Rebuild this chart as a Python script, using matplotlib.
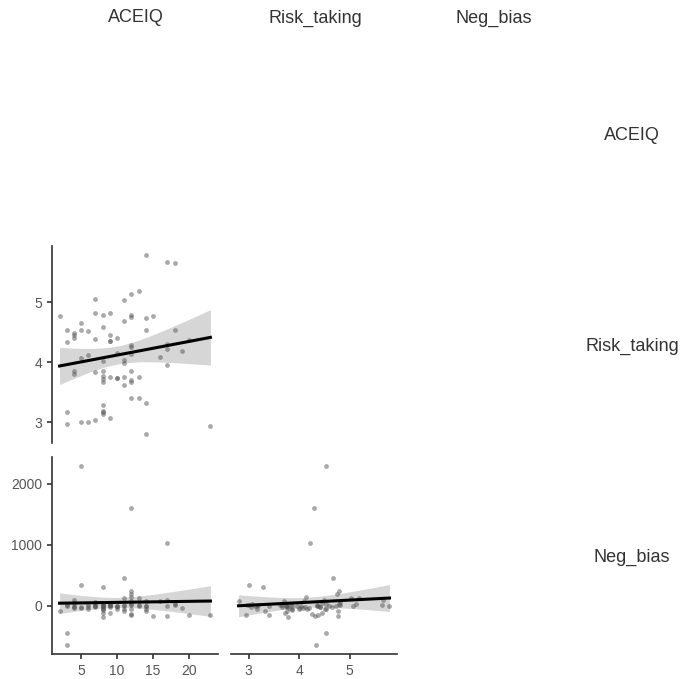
import numpy as np
import matplotlib.pyplot as plt

plt.rcParams['font.family'] = ['Liberation Sans', 'DejaVu Sans']

variables = ["ACEIQ", "Risk_taking", "Neg_bias"]

# one row per participant, grouped by ACEIQ score
aceiq = [2,
         3, 3, 3, 3,
         4, 4, 4, 4, 4,
         5, 5, 5, 5,
         6, 6, 6,
         7, 7, 7, 7, 7,
         8, 8, 8, 8, 8, 8, 8, 8, 8, 8, 8,
         9, 9, 9, 9, 9, 9,
         10, 10, 10, 10,
         11, 11, 11, 11, 11, 11,
         12, 12, 12, 12, 12, 12, 12, 12, 12, 12,
         13, 13, 13,
         14, 14, 14, 14, 14,
         15,
         16,
         17, 17, 17, 17,
         18, 18,
         19,
         20,
         23]

risk_taking = [4.77,
               4.54, 4.33, 3.16, 2.96,
               4.49, 4.45, 4.41, 3.86, 3.80,
               4.66, 4.54, 4.07, 3.00,
               4.52, 4.12, 3.00,
               5.06, 4.82, 4.38, 3.84, 3.04,
               4.79, 4.59, 4.02, 3.86, 3.77, 3.72, 3.67, 3.28, 3.19, 3.16, 3.13,
               4.82, 4.46, 4.36, 4.36, 3.76, 3.07,
               4.41, 4.15, 3.74, 3.74,
               5.03, 4.68, 4.04, 3.99, 3.76, 3.62,
               5.13, 4.79, 4.76, 4.29, 4.26, 4.14, 3.86, 3.71, 3.67, 3.40,
               5.19, 3.76, 3.40,
               5.79, 4.73, 4.53, 3.32, 2.80,
               4.77,
               4.09,
               5.67, 4.31, 4.22, 3.96,
               5.65, 4.54,
               4.19,
               4.37,
               2.94]

neg_bias = [-82,
            -454, -650, -11, 5,
            93, 38, -27, -11, -38,
            -27, 2295, -38, 344,
            -55, -30, 10,
            0, 55, -10, 20, -20,
            30, -2, -38, -71, -186, -115, -20, 300, 10, -50, 0,
            11, -126, 16, 0, -20, 30,
            -27, -54, 0, -10,
            120, 448, -5, -54, -82, 10,
            20, 235, 191, 1596, -137, 137, -54, 82, 11, -148,
            120, 11, 0,
            -16, -11, -54, -93, 82,
            -175,
            82,
            93, -175, 1033, -16,
            11, 30,
            -38,
            -153,
            -153]

data = {"ACEIQ": np.array(aceiq, float),
        "Risk_taking": np.array(risk_taking, float),
        "Neg_bias": np.array(neg_bias, float)}

tick_values = {"ACEIQ": [5, 10, 15, 20],
               "Risk_taking": [3, 4, 5],
               "Neg_bias": [0, 1000, 2000]}

T_CRIT = 1.99  # 95% t quantile, df ~ 76

W, H = 682, 679
col_left = [52, 231, 410]
row_top = [35, 246, 457]
panel_w, panel_h = 166, 197

AXIS_COL = "#333333"
TEXT_COL = "#555555"


def rect(left, top, w, h):
    return [left / W, 1 - (top + h) / H, w / W, h / H]


def limits(v):
    lo, hi = v.min(), v.max()
    pad = (hi - lo) * 0.05
    return lo - pad, hi + pad


def draw_panel(ax, xname, yname):
    x = data[xname]
    y = data[yname]

    slope, intercept = np.polyfit(x, y, 1)
    xs = np.linspace(x.min(), x.max(), 100)
    fit = intercept + slope * xs
    resid = y - (intercept + slope * x)
    n = len(x)
    s = np.sqrt(np.sum(resid ** 2) / (n - 2))
    se = s * np.sqrt(1 / n + (xs - x.mean()) ** 2 / np.sum((x - x.mean()) ** 2))

    ax.fill_between(xs, fit - T_CRIT * se, fit + T_CRIT * se,
                    color="#d6d6d6", lw=0, zorder=1)
    ax.scatter(x, y, s=12, color="#555555", alpha=0.5, lw=0, zorder=2)
    ax.plot(xs, fit, color="black", lw=2.2, zorder=3)

    ax.set_xlim(*limits(x))
    ax.set_ylim(*limits(y))
    ax.set_xticks(tick_values[xname])
    ax.set_yticks(tick_values[yname])
    for side in ["top", "right", "left", "bottom"]:
        ax.spines[side].set_visible(False)
    ax.tick_params(colors=AXIS_COL, labelcolor=TEXT_COL, labelsize=10,
                   length=3.5, width=1.2)


fig = plt.figure(figsize=(W / 100, H / 100), dpi=100)

for i, yname in enumerate(variables):
    for j, xname in enumerate(variables):
        if j >= i:
            continue
        ax = fig.add_axes(rect(col_left[j], row_top[i], panel_w, panel_h))
        draw_panel(ax, xname, yname)
        if j == 0:
            ax.spines["left"].set_visible(True)
            ax.spines["left"].set_color(AXIS_COL)
            ax.spines["left"].set_linewidth(1.2)
        else:
            ax.tick_params(axis="y", left=False, labelleft=False)
        if i == len(variables) - 1:
            ax.spines["bottom"].set_visible(True)
            ax.spines["bottom"].set_color(AXIS_COL)
            ax.spines["bottom"].set_linewidth(1.2)
        else:
            ax.tick_params(axis="x", bottom=False, labelbottom=False)

# column titles and row labels
for j, name in enumerate(variables):
    fig.text((col_left[j] + panel_w / 2 + 1) / W, 1 - 18 / H, name,
             ha="center", va="center", fontsize=13, color="#333333")
for i, name in enumerate(variables):
    fig.text(632 / W, 1 - (row_top[i] + panel_h / 2 + 2) / H, name,
             ha="center", va="center", fontsize=13, color="#333333")

fig.savefig("out.png", dpi=100)
